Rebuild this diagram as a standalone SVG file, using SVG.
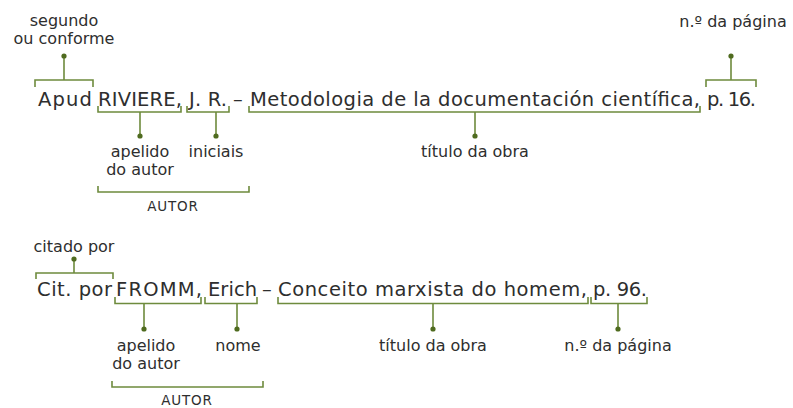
<svg xmlns="http://www.w3.org/2000/svg" width="793" height="408" viewBox="0 0 793 408">
<style>
.main{font-family:"DejaVu Sans","Noto Sans",sans-serif;font-size:19.5px;fill:#2e2e2e}
.lbl{font-family:"DejaVu Sans","Noto Sans",sans-serif;font-size:16px;fill:#2e2e2e;text-anchor:middle}
.cap{font-family:"DejaVu Sans","Noto Sans",sans-serif;font-size:13.5px;fill:#2e2e2e;text-anchor:middle;letter-spacing:0.8px}
.br{fill:none;stroke:#6e8b3d;stroke-width:1.6}
.dot{fill:#4f6b1f}
</style>
<rect width="793" height="408" fill="#ffffff"/>
<g id="line1">
<text class="main" x="38" y="106" textLength="54">Apud</text>
<text class="main" x="98" y="106" textLength="84">RIVIERE,</text>
<text class="main" x="189" y="106" textLength="38">J. R.</text>
<text class="main" x="233" y="106">–</text>
<text class="main" x="250" y="106" textLength="450">Metodologia de la documentación científica,</text>
<text class="main" x="707" y="106" textLength="49">p. 16.</text>
</g>
<g id="line2">
<text class="main" x="37" y="296" textLength="75">Cit. por</text>
<text class="main" x="116" y="296" textLength="86">FROMM,</text>
<text class="main" x="208" y="296" textLength="49">Erich</text>
<text class="main" x="262" y="296">–</text>
<text class="main" x="278" y="296" textLength="309">Conceito marxista do homem,</text>
<text class="main" x="593" y="296" textLength="54">p. 96.</text>
</g>
<g id="connectors">
<path class="br" d="M35,87V80H93V87M64,80V56"/>
<path class="br" d="M706,87V80H756V87M731,80V56"/>
<path class="br" d="M98,106V112H181V106M140,112V136"/>
<path class="br" d="M187,106V112H229V106M216,112V136"/>
<path class="br" d="M249,106V112H700V106M475,112V136"/>
<path class="br" d="M98,186V192H249V186"/>
<path class="br" d="M36,279V273H113V279M74,273V259"/>
<path class="br" d="M115,297V303.5H201V297M144,303.5V329"/>
<path class="br" d="M205,297V303.5H257V297M237,303.5V329"/>
<path class="br" d="M278,297V303.5H588V297M433,303.5V329"/>
<path class="br" d="M591,297V303.5H647V297M618,303.5V329"/>
<path class="br" d="M112,381V387H263V381"/>
<circle class="dot" cx="64" cy="56" r="2.6"/>
<circle class="dot" cx="731" cy="56" r="2.6"/>
<circle class="dot" cx="140" cy="136" r="2.6"/>
<circle class="dot" cx="216" cy="136" r="2.6"/>
<circle class="dot" cx="475" cy="136" r="2.6"/>
<circle class="dot" cx="74" cy="259" r="2.6"/>
<circle class="dot" cx="144" cy="329" r="2.6"/>
<circle class="dot" cx="237" cy="329" r="2.6"/>
<circle class="dot" cx="433" cy="329" r="2.6"/>
<circle class="dot" cx="618" cy="329" r="2.6"/>
</g>
<g id="segundo"><text class="lbl" x="64" y="26">segundo<tspan x="64" dy="17.5">ou conforme</tspan></text></g>
<g id="pagina1"><text class="lbl" x="733" y="27">n.º da página</text></g>
<g id="apelido1"><text class="lbl" x="140" y="157">apelido<tspan x="140" dy="18">do autor</tspan></text></g>
<g id="iniciais"><text class="lbl" x="216" y="157">iniciais</text></g>
<g id="titulo1"><text class="lbl" x="475" y="157">título da obra</text></g>
<g id="autor1"><text class="cap" x="173" y="211">AUTOR</text></g>
<g id="citado"><text class="lbl" x="74" y="252">citado por</text></g>
<g id="apelido2"><text class="lbl" x="146" y="351">apelido<tspan x="146" dy="18">do autor</tspan></text></g>
<g id="nome"><text class="lbl" x="238" y="351">nome</text></g>
<g id="titulo2"><text class="lbl" x="433" y="351">título da obra</text></g>
<g id="pagina2"><text class="lbl" x="618" y="351">n.º da página</text></g>
<g id="autor2"><text class="cap" x="187" y="405">AUTOR</text></g>
</svg>
